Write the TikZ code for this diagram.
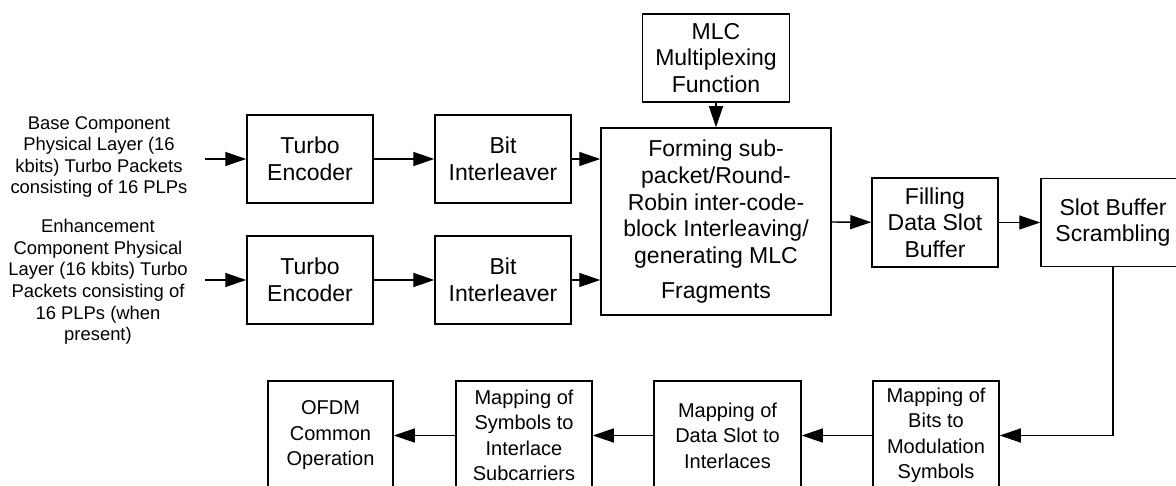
\documentclass[tikz,border=0pt]{standalone}
\usepackage{fontspec}
\setmainfont{Liberation Sans}
\usetikzlibrary{arrows.meta}

\begin{document}
\begin{tikzpicture}[x=1pt, y=-1pt,
    block/.style={draw=borderColour, line width=1.5pt, align=center, inner sep=0pt,
        font=\fontsize{23}{26.7}\selectfont},
    lowblock/.style={block, minimum width=#1, minimum height=109,
        font=\fontsize{20}{25.5}\selectfont},
    inputtext/.style={align=center, font=\fontsize{18.4}{21.6}\selectfont},
    flow/.style={draw=borderColour, line width=1.4pt, -{Triangle[length=21pt, width=14pt]}}]

    % Define colours
    \definecolor{borderColour}{HTML}{000000}

    % Fix the page size
    \useasboundingbox (0,0) rectangle (1176,486);
    \clip (0,0) rectangle (1176,486);

    % Input texts
    \node[inputtext] (inBase) at (99,157) {Base Component\\Physical Layer (16\\kbits) Turbo Packets\\consisting of 16 PLPs};
    \node[inputtext] (inEnh) at (98,282) {Enhancement\\Component Physical\\Layer (16 kbits) Turbo\\Packets consisting of\\16 PLPs (when\\present)};
    \coordinate (srcBase) at (205,159);
    \coordinate (srcEnh) at (205,280);

    % Upper row of blocks
    \node[block, minimum width=126, minimum height=88] (turboBase) at (310,159) {Turbo\\Encoder};
    \node[block, minimum width=136, minimum height=88] (bitBase) at (503,159) {Bit\\Interleaver};
    \node[block, minimum width=126, minimum height=88] (turboEnh) at (310,280) {Turbo\\Encoder};
    \node[block, minimum width=136, minimum height=88] (bitEnh) at (503,280) {Bit\\Interleaver};
    \node[block, minimum width=147, minimum height=88] (mlcMux) at (716,58) {MLC\\Multiplexing\\Function};
    \node[block, minimum width=230, minimum height=187] (forming) at (716,221.5) {Forming sub-\\packet/Round-\\Robin inter-code-\\block Interleaving/\\generating MLC\\[8pt]Fragments};
    \node[block, minimum width=126, minimum height=89] (filling) at (935,222.5) {Filling\\Data Slot\\Buffer};
    \node[block, minimum width=144, minimum height=88] (scrambling) at (1113,222.5) {Slot Buffer\\Scrambling};

    % Lower row of blocks
    \node[lowblock=126] (bitsMod) at (936,435.5) {Mapping of\\Bits to\\Modulation\\Symbols};
    \node[lowblock=147] (slotMap) at (727.5,435.5) {Mapping of\\Data Slot to\\Interlaces};
    \node[lowblock=136] (symMap) at (524,435.5) {Mapping of\\Symbols to\\Interlace\\Subcarriers};
    \node[lowblock=125] (ofdm) at (330.5,435.5) {OFDM\\Common\\Operation};

    % Draw connectors
    \draw[flow] (srcBase) -- (turboBase);
    \draw[flow] (turboBase) -- (bitBase);
    \draw[flow] (bitBase.east) -- (bitBase.east -| forming.west);
    \draw[flow] (srcEnh) -- (turboEnh);
    \draw[flow] (turboEnh) -- (bitEnh);
    \draw[flow] (bitEnh.east) -- (bitEnh.east -| forming.west);
    \draw[flow] (mlcMux) -- (forming);
    \draw[flow] (forming) -- (filling);
    \draw[flow] (filling) -- (scrambling);
    \draw[flow] (scrambling.south) |- (bitsMod.east);
    \draw[flow] (bitsMod) -- (slotMap);
    \draw[flow] (slotMap) -- (symMap);
    \draw[flow] (symMap) -- (ofdm);

\end{tikzpicture}
\end{document}
